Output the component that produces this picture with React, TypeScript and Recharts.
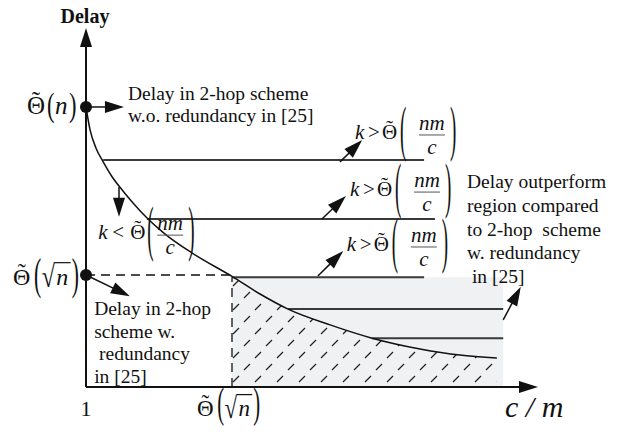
import React from 'react';
import { ComposedChart, Line, Area, XAxis, YAxis, ReferenceLine, ReferenceArea, ReferenceDot } from 'recharts';

// curve: delay vs c/m (schematic units, both axes 0..100)
const cmRatio = [0, 0.9, 2.2, 3.8, 5.8, 8.0, 10.6, 13.5, 17.5, 23.5, 32.3, 38.5, 44.7, 54.0, 63.3, 73.9, 82.7, 90.9];
const delay = [78.0, 71.6, 66.6, 62.7, 58.5, 54.9, 51.0, 47.1, 42.6, 37.3, 30.8, 25.9, 21.7, 17.3, 13.6, 10.6, 8.9, 8.1];

// key levels
const delayN = 78.0; // Θ(n)
const delaySqrtN = 31.2; // Θ(√n)
const cmSqrtN = 32.3; // Θ(√n) on the c/m axis
const regionTop = 30.6;
const regionEnd = 92.3;

// horizontal k-threshold lines
const levelY = [63.2, 46.8, 30.6, 21.7, 13.6];
const levelFrom = [3.8, 13.5, 32.3, 44.7, 63.3];
const levelTo = [74.8, 77.2, 74.8, 92.3, 92.3];

// text
const axisTitle = 'Delay';
const xTitle = 'c / m';
const xOrigin = '1';
const kOps = ['>', '>', '>', '<'];
const kAt = [
  { x: 59.5, y: 70.2 },
  { x: 58.4, y: 54.3 },
  { x: 57.7, y: 39.0 },
  { x: 2.7, y: 42.3 },
];
const noRedundancyNote = ['Delay in 2-hop scheme', 'w.o. redundancy in [25]'];
const redundancyNote = ['Delay in 2-hop', 'scheme w.', ' redundancy', 'in [25]'];
const outperformNote = ['Delay outperform', 'region compared', 'to 2-hop  scheme', 'w. redundancy', ' in [25]'];

// arrows [from, to] in data units
const arrows = [
  [{ x: 0, y: 78 }, { x: 8.4, y: 78 }],
  [{ x: 7.3, y: 55.7 }, { x: 7.3, y: 47.4 }],
  [{ x: 56.2, y: 62.7 }, { x: 61.1, y: 68.8 }],
  [{ x: 52.2, y: 46.8 }, { x: 57.5, y: 53.2 }],
  [{ x: 51.3, y: 30.9 }, { x: 56.9, y: 37.9 }],
  [{ x: 0, y: 31.2 }, { x: 9.7, y: 25.3 }],
  [{ x: 92.3, y: 18.7 }, { x: 96.2, y: 27.9 }],
];

const table = cmRatio.map((x, i) => ({ x, delay: delay[i], hatch: x >= cmSqrtN ? delay[i] : null }));

const SERIF = "'Liberation Serif', 'Times New Roman', serif";
const INK = '#111';

const arrowShape = (head: number, width: number, sw: number) => (p: any) => {
  const { x1, y1, x2, y2 } = p;
  const len = Math.hypot(x2 - x1, y2 - y1) || 1;
  const ux = (x2 - x1) / len;
  const uy = (y2 - y1) / len;
  const bx = x2 - ux * head;
  const by = y2 - uy * head;
  const nx = (-uy * width) / 2;
  const ny = (ux * width) / 2;
  return (
    <g>
      <line x1={x1} y1={y1} x2={bx + ux} y2={by + uy} stroke={INK} strokeWidth={sw} />
      <polygon points={`${x2},${y2} ${bx + nx},${by + ny} ${bx - nx},${by - ny}`} fill={INK} />
    </g>
  );
};

const Theta = ({ x, y, fs }: any) => (
  <g>
    <text x={x} y={y} fontSize={fs} fontFamily={SERIF} fill={INK}>Θ</text>
    <text x={x + 0.36 * fs} y={y - 0.2 * fs} fontSize={fs} fontFamily={SERIF} fill={INK} textAnchor="middle">˜</text>
  </g>
);

const Paren = ({ x, yc, h, fs, ch }: any) => {
  const sy = h / (0.853 * fs);
  return (
    <text transform={`translate(${x},${yc + 0.2925 * h}) scale(0.9,${sy})`} fontSize={fs} fontFamily={SERIF} fill={INK}>
      {ch}
    </text>
  );
};

const it = { fontFamily: SERIF, fontStyle: 'italic' as const, fill: INK };

// offsets: operator, theta, open paren, fraction centre, close paren
const kLabel = (op: string) => (p: any) => {
  const { cx, cy } = p;
  const fs = 21;
  const o = op === '<' ? [14, 32, 49, 72, 90] : [13, 27, 45, 77, 95];
  return (
    <g>
      <text x={cx} y={cy + 4} fontSize={fs} {...it}>k</text>
      <text x={cx + o[0]} y={cy + 4} fontSize={fs} fontFamily={SERIF} fill={INK}>{op}</text>
      <Theta x={cx + o[1]} y={cy + 4} fs={fs} />
      <Paren x={cx + o[2]} yc={cy - 1} h={52} fs={fs} ch="(" />
      <text x={cx + o[3]} y={cy - 5} fontSize={fs} textAnchor="middle" {...it}>nm</text>
      <line x1={cx + o[3] - 13} x2={cx + o[3] + 13} y1={cy} y2={cy} stroke="#555" strokeWidth={1} />
      <text x={cx + o[3]} y={cy + 19} fontSize={fs} textAnchor="middle" {...it}>c</text>
      <Paren x={cx + o[4]} yc={cy - 1} h={52} fs={fs} ch=")" />
    </g>
  );
};

const noteShape = (lines: string[], lh: number) => (p: any) => (
  <text x={p.cx} y={p.cy} fontSize={19.5} fontFamily={SERIF} fill={INK} style={{ whiteSpace: 'pre' }}>
    {lines.map((l, i) => (
      <tspan key={i} x={p.cx} dy={i === 0 ? 0 : lh}>{l}</tspan>
    ))}
  </text>
);

const thetaNLabel = (p: any) => {
  const x0 = p.cx - 59;
  const b = p.cy + 7;
  return (
    <g>
      <Theta x={x0} y={b} fs={25} />
      <Paren x={x0 + 20} yc={p.cy + 1} h={29} fs={25} ch="(" />
      <text x={x0 + 28} y={b} fontSize={25} {...it}>n</text>
      <Paren x={x0 + 42} yc={p.cy + 1} h={29} fs={25} ch=")" />
    </g>
  );
};

const sqrtNLabel = (x0: number, b: number, yc: number, h: number, fs: number) => (
  <g>
    <Theta x={x0} y={b} fs={fs} />
    <Paren x={x0 + 0.88 * fs} yc={yc} h={h} fs={fs} ch="(" />
    <text transform={`translate(${x0 + 1.2 * fs},${b + 0.1 * fs}) scale(1,1.3)`} fontSize={fs} fontFamily={SERIF} fill={INK}>√</text>
    <line x1={x0 + 1.72 * fs} x2={x0 + 2.4 * fs} y1={b - 0.93 * fs} y2={b - 0.93 * fs} stroke={INK} strokeWidth={1.2} />
    <text x={x0 + 1.8 * fs} y={b} fontSize={fs} {...it}>n</text>
    <Paren x={x0 + 2.45 * fs} yc={yc} h={h} fs={fs} ch=")" />
  </g>
);

const App: React.FC = () => {
  return (
    <div style={{ position: 'absolute', left: 0, top: 0, background: '#fff' }}>
      <svg width={0} height={0} style={{ position: 'absolute' }}>
        <defs>
          <pattern id="hatch" patternUnits="userSpaceOnUse" width={22} height={24}>
            <line x1={2} y1={10} x2={8} y2={4} stroke="#222" strokeWidth={1.2} />
            <line x1={13} y1={22} x2={19} y2={16} stroke="#222" strokeWidth={1.2} />
          </pattern>
        </defs>
      </svg>
      <ComposedChart width={634} height={434} data={table} margin={{ top: 28, right: 96, bottom: 47, left: 86 }}>
        <XAxis type="number" dataKey="x" domain={[0, 100]} hide allowDataOverflow />
        <YAxis type="number" domain={[0, 100]} hide allowDataOverflow />

        <ReferenceArea x1={cmSqrtN} x2={regionEnd} y1={0} y2={regionTop} fill="#f0f1f3" fillOpacity={1} stroke="none" ifOverflow="visible" />
        <Area
          dataKey="hatch"
          type="monotone"
          fill="url(#hatch)"
          fillOpacity={1}
          stroke="none"
          baseValue={0}
          isAnimationActive={false}
        />

        <ReferenceLine segment={[{ x: 0, y: delaySqrtN }, { x: cmSqrtN, y: delaySqrtN }]} stroke={INK} strokeWidth={1.3} strokeDasharray="9 6" ifOverflow="visible" />
        <ReferenceLine segment={[{ x: cmSqrtN, y: 0 }, { x: cmSqrtN, y: regionTop }]} stroke={INK} strokeWidth={1.3} strokeDasharray="9 6" ifOverflow="visible" />

        {levelY.map((y, i) => (
          <ReferenceLine
            key={`lv${i}`}
            segment={[{ x: levelFrom[i], y }, { x: levelTo[i], y }]}
            stroke="#3a3a3a"
            strokeWidth={2}
            ifOverflow="visible"
          />
        ))}

        <Line dataKey="delay" type="monotone" stroke={INK} strokeWidth={1.5} dot={false} activeDot={false} isAnimationActive={false} />

        <ReferenceLine segment={[{ x: 0, y: 0 }, { x: 100, y: 0 }]} shape={arrowShape(19, 12, 2)} ifOverflow="visible" />
        <ReferenceLine segment={[{ x: 0, y: 0 }, { x: 0, y: 100 }]} shape={arrowShape(19, 12, 2)} ifOverflow="visible" />

        {arrows.map((a, i) => (
          <ReferenceLine key={`ar${i}`} segment={a} shape={arrowShape(19, 12, 1.5)} ifOverflow="visible" />
        ))}

        <ReferenceDot x={0} y={delayN} r={6} fill={INK} stroke="none" ifOverflow="visible" />
        <ReferenceDot x={0} y={delaySqrtN} r={6} fill={INK} stroke="none" ifOverflow="visible" />

        {kOps.map((op, i) => (
          <ReferenceDot key={`k${i}`} x={kAt[i].x} y={kAt[i].y} r={0} ifOverflow="visible" shape={kLabel(op)} />
        ))}

        <ReferenceDot x={9.3} y={79.9} r={0} ifOverflow="visible" shape={noteShape(noRedundancyNote, 22)} />
        <ReferenceDot x={1.8} y={20.1} r={0} ifOverflow="visible" shape={noteShape(redundancyNote, 22.7)} />
        <ReferenceDot x={84.3} y={55.4} r={0} ifOverflow="visible" shape={noteShape(outperformNote, 23.7)} />

        <ReferenceDot x={0} y={delayN} r={0} ifOverflow="visible" shape={thetaNLabel} />
        <ReferenceDot
          x={0}
          y={delaySqrtN}
          r={0}
          ifOverflow="visible"
          shape={(p: any) => sqrtNLabel(p.cx - 73, p.cy + 10, p.cy + 3, 37, 24)}
        />
        <ReferenceDot
          x={cmSqrtN}
          y={0}
          r={0}
          ifOverflow="visible"
          shape={(p: any) => sqrtNLabel(p.cx - 35, p.cy + 29, p.cy + 19, 36, 23)}
        />
        <ReferenceDot
          x={0}
          y={0}
          r={0}
          ifOverflow="visible"
          shape={(p: any) => (
            <text x={p.cx} y={p.cy + 29} fontSize={22} fontFamily={SERIF} fill={INK} textAnchor="middle">{xOrigin}</text>
          )}
        />
        <ReferenceDot
          x={100}
          y={0}
          r={0}
          ifOverflow="visible"
          shape={(p: any) => (
            <text x={p.cx - 33} y={p.cy + 30} fontSize={30} {...it} style={{ whiteSpace: 'pre' }}>{xTitle}</text>
          )}
        />
        <ReferenceDot
          x={0}
          y={100}
          r={0}
          ifOverflow="visible"
          shape={(p: any) => (
            <text x={p.cx - 1} y={p.cy - 5} fontSize={20} fontWeight="bold" fontFamily={SERIF} fill={INK} textAnchor="middle">{axisTitle}</text>
          )}
        />
      </ComposedChart>
    </div>
  );
};

export default App;
